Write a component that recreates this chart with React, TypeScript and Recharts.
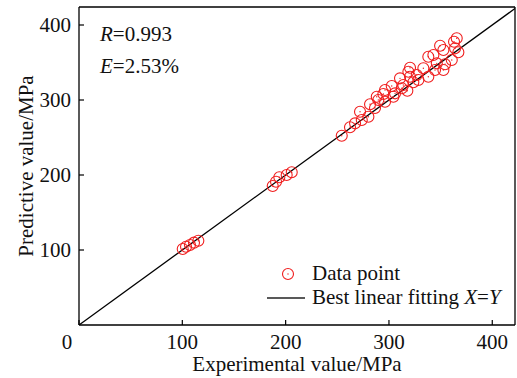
import React from 'react';
import { ComposedChart, Scatter, Line, XAxis, YAxis, Legend } from 'recharts';

const experimental = [
  100.4, 103.6, 107.4, 111.3, 115.5,
  187.5, 190.7, 193.9, 201.0, 205.9,
  254.3, 262.3, 267.2, 273.7, 272.0, 280.1, 281.7, 286.5, 288.2, 289.7,
  294.6, 296.2, 296.2, 302.7, 304.3, 305.9, 310.7, 312.4, 313.9, 317.8,
  318.8, 320.4, 320.4, 323.6, 326.9, 328.5, 333.3, 338.1, 338.1, 343.0,
  344.6, 346.3, 349.5, 352.7, 352.7, 354.3, 360.8, 363.0, 364.0, 365.6, 367.2,
];
const predicted = [
  101.3, 104.4, 106.7, 109.8, 112.4,
  185.3, 191.1, 197.0, 200.0, 203.6,
  252.4, 263.6, 268.9, 273.3, 284.4, 277.7, 294.3, 289.3, 304.4, 300.0,
  308.0, 297.7, 313.3, 318.7, 304.4, 308.9, 328.9, 315.6, 320.0, 312.4,
  337.7, 343.1, 331.1, 323.6, 333.3, 326.7, 342.3, 331.1, 357.7, 360.0,
  340.0, 348.9, 372.4, 366.7, 340.0, 347.6, 353.3, 377.7, 368.9, 382.3, 363.6,
];
const fitX = [0, 422];
const xTicks = [0, 100, 200, 300, 400];
const yTicks = [100, 200, 300, 400];
const xDomain = [0, 422];
const yDomain = [0, 424];

const points = experimental.map((x, i) => ({ x, y: predicted[i] }));
const fitLine = fitX.map((x) => ({ x, y: x }));

const FONT = '"Liberation Serif", "Times New Roman", serif';
const RED = '#f01e1e';

const Marker = (props: any) => {
  const { cx, cy } = props;
  if (cx == null || cy == null) return null;
  return (
    <g>
      <circle cx={cx} cy={cy} r={5.5} fill="none" stroke={RED} strokeWidth={1.1} />
      <circle cx={cx} cy={cy} r={0.7} fill={RED} />
    </g>
  );
};

const XTick = (props: any) => {
  const { x, y, payload } = props;
  const dx = payload.value === 0 ? -12 : 0;
  return (
    <text x={x + dx} y={y} dy="0.71em" textAnchor="middle" fill="#111" fontSize={21} fontFamily={FONT}>
      {payload.value}
    </text>
  );
};

const LegendContent = () => (
  <svg width={257} height={60} style={{ overflow: 'visible' }}>
    <Marker cx={28} cy={19} />
    <text x={52} y={25} fontSize={21} fontFamily={FONT} fill="#111">Data point</text>
    <line x1={7} x2={45} y1={43} y2={43} stroke="#222" strokeWidth={1.4} />
    <text x={52} y={49} fontSize={21} fontFamily={FONT} fill="#111">
      Best linear fitting <tspan fontStyle="italic">X</tspan>=<tspan fontStyle="italic">Y</tspan>
    </text>
  </svg>
);

export default function App() {
  return (
    <div style={{ position: 'absolute', left: 0, top: 0, width: 517, height: 378 }}>
      <ComposedChart width={517} height={378} margin={{ top: 6, right: 1, bottom: 0, left: 0 }}>
        <XAxis
          xAxisId={0}
          dataKey="x"
          type="number"
          domain={xDomain}
          ticks={xTicks}
          allowDataOverflow
          height={53}
          tickSize={-5}
          tickMargin={14}
          tick={<XTick />}
          axisLine={{ stroke: '#000', strokeWidth: 1.3 }}
          tickLine={{ stroke: '#000', strokeWidth: 1.2 }}
          label={{ value: 'Experimental value/MPa', position: 'insideBottom', offset: 7, fill: '#111', fontSize: 21, fontFamily: FONT }}
        />
        <XAxis
          xAxisId="top"
          orientation="top"
          dataKey="x"
          type="number"
          domain={xDomain}
          ticks={xTicks}
          allowDataOverflow
          height={1}
          tickSize={-5}
          tick={false}
          axisLine={{ stroke: '#000', strokeWidth: 1.3 }}
          tickLine={{ stroke: '#000', strokeWidth: 1.2 }}
        />
        <YAxis
          yAxisId={0}
          dataKey="y"
          type="number"
          domain={yDomain}
          ticks={yTicks}
          allowDataOverflow
          width={79}
          tickSize={-5}
          tickMargin={13}
          tick={{ fill: '#111', fontSize: 21, fontFamily: FONT }}
          axisLine={{ stroke: '#000', strokeWidth: 1.3 }}
          tickLine={{ stroke: '#000', strokeWidth: 1.2 }}
          label={{ value: 'Predictive value/MPa', angle: -90, position: 'insideLeft', offset: 26, fill: '#111', fontSize: 21, fontFamily: FONT, style: { textAnchor: 'middle' } }}
        />
        <YAxis
          yAxisId="right"
          orientation="right"
          type="number"
          domain={yDomain}
          ticks={yTicks}
          allowDataOverflow
          width={1}
          tickSize={-5}
          tick={false}
          axisLine={{ stroke: '#000', strokeWidth: 1.3 }}
          tickLine={{ stroke: '#000', strokeWidth: 1.2 }}
        />
        <Line
          data={fitLine}
          dataKey="y"
          type="linear"
          stroke="#000"
          strokeWidth={1.3}
          dot={false}
          activeDot={false}
          isAnimationActive={false}
          legendType="none"
        />
        <Scatter data={points} dataKey="y" shape={<Marker />} isAnimationActive={false} />
        <Legend
          layout="vertical"
          align="center"
          verticalAlign="middle"
          content={<LegendContent />}
          wrapperStyle={{ left: 260, top: 255, width: 257, height: 60 }}
        />
      </ComposedChart>
      <svg width={517} height={378} style={{ position: 'absolute', left: 0, top: 0, pointerEvents: 'none' }}>
        <text x={100} y={41} fontSize={21} fontFamily={FONT} fill="#111">
          <tspan fontStyle="italic">R</tspan>=0.993
        </text>
        <text x={100} y={73} fontSize={21} fontFamily={FONT} fill="#111">
          <tspan fontStyle="italic">E</tspan>=2.53%
        </text>
      </svg>
    </div>
  );
}
